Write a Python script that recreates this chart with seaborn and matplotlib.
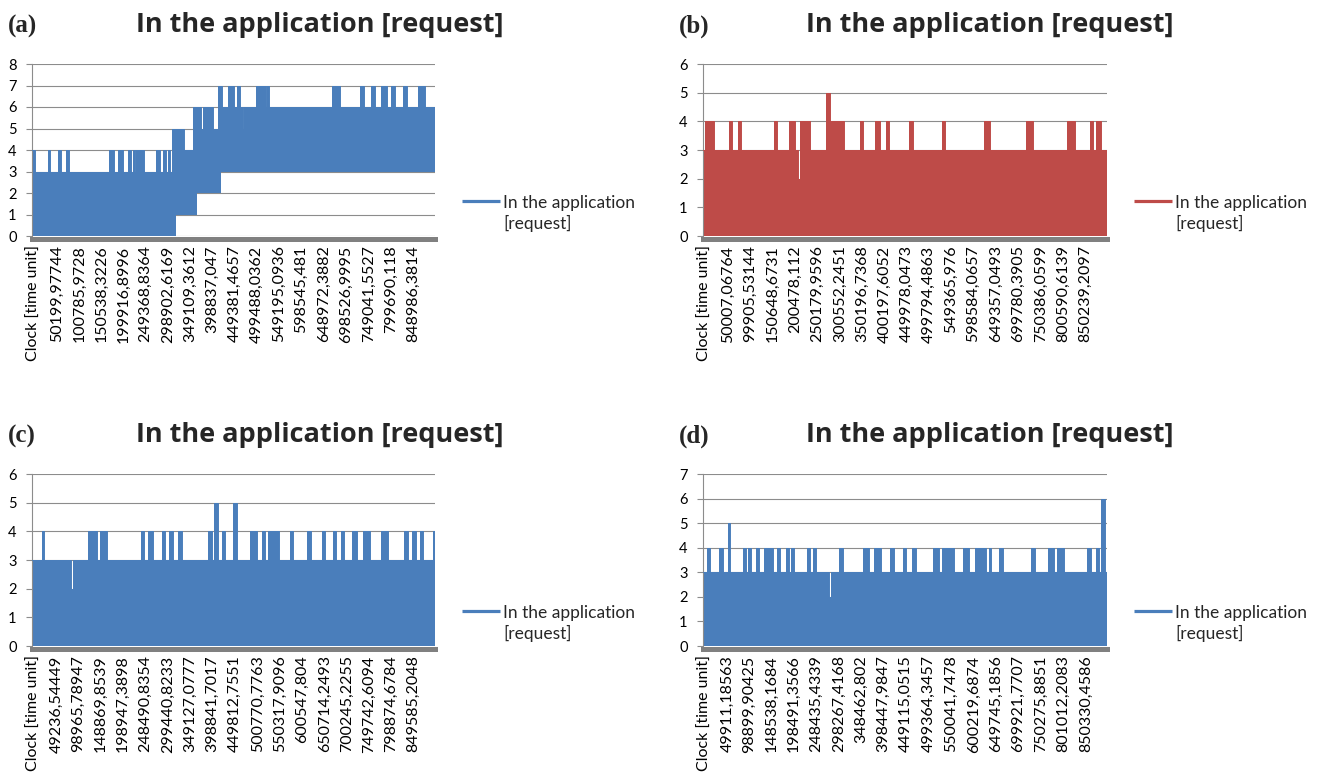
import numpy as np
import matplotlib
matplotlib.use("Agg")
import matplotlib.pyplot as plt
from matplotlib.lines import Line2D
import seaborn as sns

# ---------------------------------------------------------------------------
# Tick labels: clock values as printed (decimal comma); the first category is
# the column header of the exported table.
# ---------------------------------------------------------------------------
clock_header = "Clock [time unit]"

a_ticks = ["50199,97744", "100785,9728", "150538,3226", "199916,8996", "249368,8364",
           "298902,6169", "349109,3612", "398837,047", "449381,4657", "499488,0362",
           "549195,0936", "598545,481", "648972,3882", "698526,9995", "749041,5527",
           "799690,118", "848986,3814"]
b_ticks = ["50007,06764", "99905,53144", "150648,6731", "200478,112", "250179,9596",
           "300552,2451", "350196,7368", "400197,6052", "449978,0473", "499794,4863",
           "549365,976", "598584,0657", "649357,0493", "699780,3905", "750386,0599",
           "800590,6139", "850239,2097"]
c_ticks = ["49236,54449", "98965,78947", "148869,8539", "198947,3898", "248490,8354",
           "299440,8233", "349127,0777", "398841,7017", "449812,7551", "500770,7763",
           "550317,9096", "600547,804", "650714,2493", "700245,2255", "749742,6094",
           "798874,6784", "849585,2048"]
d_ticks = ["49911,18563", "98899,90425", "148538,1684", "198491,3566", "248435,4339",
           "298267,4168", "348462,802", "398447,9847", "449115,0515", "499364,3457",
           "550041,7478", "600219,6874", "649745,1856", "699921,7707", "750275,8851",
           "801012,2083", "850330,4586"]

# ---------------------------------------------------------------------------
# Requests in the application: step segments (clock at which each level
# starts, last entry closes the series).  *_high = peak level in the segment,
# *_floor = lowest level reached in the segment.
# ---------------------------------------------------------------------------
a_edges = [-5000, 2000, 30000, 35000, 54000, 60500, 71000, 78500, 166500, 179500,
           188500, 198000, 209500, 216500, 220500, 225000, 228000, 246500, 273000,
           282000, 289000, 295000, 300500, 304000, 308500, 336500, 356500, 373500,
           379000, 401500, 411000, 421000, 433500, 448500, 453500, 461000, 467000,
           471000, 497000, 519500, 521000, 527000, 666500, 685500, 731000, 738500,
           755000, 764000, 776000, 790500, 799500, 808500, 826000, 835000, 861000,
           876000, 898000]
a_high = [4, 3, 4, 3, 4, 3, 4, 3, 4, 3, 4, 3, 4, 3, 4, 3, 4, 3, 4, 3, 4, 3, 4, 3,
          5, 4, 6, 5, 6, 5, 7, 6, 7, 6, 7, 6, 5, 6, 7, 6, 7, 6, 7, 6, 7, 6, 7, 6,
          7, 6, 7, 6, 7, 6, 7, 6]
a_floor_edges = [-5000, 317500, 364000, 418500, 898000]
a_floor = [0, 1, 2, 3]

b_edges = [-5000, 500, 20000, 52000, 59500, 73000, 80500, 153000, 160500, 186500,
           201500, 207500, 211000, 212500, 235000, 270000, 278000, 311000, 347000,
           352500, 380500, 390000, 404000, 411000, 456500, 464000, 529500, 537000,
           624000, 637500, 718000, 733000, 809000, 827500, 860000, 867000, 874500,
           883500, 898000]
b_high = [3, 4, 3, 4, 3, 4, 3, 4, 3, 4, 3, 2, 3, 4, 3, 5, 4, 3, 4, 3, 4, 3, 4, 3,
          4, 3, 4, 3, 4, 3, 4, 3, 4, 3, 4, 3, 4, 3]
b_floor_edges = [-5000, 898000]
b_floor = [0]

c_edges = [-5000, 16500, 22500, 82000, 86000, 119500, 140000, 147000, 162000, 239000,
           246500, 254000, 265500, 285500, 293000, 302500, 311500, 321500, 330500,
           388500, 397500, 402000, 411000, 420000, 428500, 444500, 453500, 483500,
           498500, 509500, 517000, 523000, 549500, 573000, 580500, 610500, 620500,
           644500, 651500, 669000, 676500, 687500, 695000, 711500, 722500, 736000,
           752500, 776000, 792000, 829500, 838500, 846000, 856000, 864500, 872000,
           893000, 898000]
c_high = [3, 4, 3, 2, 3, 4, 3, 4, 3, 4, 3, 4, 3, 4, 3, 4, 3, 4, 3, 4, 3, 5, 3, 4,
          3, 5, 3, 4, 3, 4, 3, 4, 3, 4, 3, 4, 3, 4, 3, 4, 3, 4, 3, 4, 3, 4, 3, 4,
          3, 4, 3, 4, 3, 4, 3, 4]
c_floor_edges = [-5000, 898000]
c_floor = [0]

d_edges = [-5000, 3500, 11000, 31500, 39000, 50000, 56000, 83500, 91000, 94500,
           102000, 113500, 121000, 132000, 150500, 160500, 168000, 180500, 188000,
           191500, 199000, 227500, 235000, 240000, 247500, 276000, 282000, 300000,
           307000, 352000, 365500, 378000, 393000, 414000, 421500, 441500, 449000,
           462500, 470000, 508500, 522000, 529500, 555500, 575500, 589000, 604000,
           628000, 634000, 639000, 657500, 665000, 728500, 736000, 766000, 779500,
           786500, 803000, 854000, 861500, 872500, 880000, 885000, 892500, 898000]
d_high = [3, 4, 3, 4, 3, 5, 3, 4, 3, 4, 3, 4, 3, 4, 3, 4, 3, 4, 3, 4, 3, 4, 3, 4,
          3, 2, 3, 4, 3, 4, 3, 4, 3, 4, 3, 4, 3, 4, 3, 4, 3, 4, 3, 4, 3, 4, 3, 4,
          3, 4, 3, 4, 3, 4, 3, 4, 3, 4, 3, 4, 3, 6, 3]
d_floor_edges = [-5000, 898000]
d_floor = [0]

# ---------------------------------------------------------------------------
# Styling
# ---------------------------------------------------------------------------
sns.set_style("white")
plt.rcParams["font.family"] = ["Lato", "DejaVu Sans"]

TITLE = "In the application [request]"
LEGEND_LINES = ["In the application", "[request]"]
BLUE = "#4A7EBB"
RED = "#BE4B48"
GRID = "#8C8C8C"
FLOOR = "#808080"
XLIM = (-5000, 898000)

W, H = 1317, 781
fig = plt.figure(figsize=(W / 100, H / 100), dpi=100)


def fx(px):
    return px / W


def fy(py):
    return 1 - py / H


def step_at(edges, values, x):
    idx = np.searchsorted(np.asarray(edges, float), x, side="right") - 1
    idx = np.clip(idx, 0, len(values) - 1)
    return np.asarray(values, float)[idx]


def draw_panel(tag, ticks, edges, high, floor_edges, floor, ymax, color,
               box, title_x, top):
    left, right, ax_top, ax_bottom = box
    ax = fig.add_axes([fx(left), fy(ax_bottom), (right - left) / W,
                       (ax_bottom - ax_top) / H])

    x = np.union1d(edges, floor_edges)
    hi = step_at(edges, high, x)
    lo = step_at(floor_edges, floor, x)
    ax.fill_between(x, lo, hi, step="post", color=color, lw=0, zorder=2)
    sns.lineplot(x=np.asarray(edges, float), y=np.append(high, high[-1]),
                 drawstyle="steps-post", color=color, lw=0.7, ax=ax,
                 estimator=None, legend=False, zorder=3)

    ax.set_xlim(*XLIM)
    ax.set_ylim(0, ymax)
    ax.set_yticks(range(ymax + 1))
    positions = [0.0] + [float(t.replace(",", ".")) for t in ticks]
    ax.set_xticks(positions)
    ax.set_xticklabels([clock_header] + ticks)
    ax.set_xlabel("")
    ax.set_ylabel("")

    ax.set_axisbelow(True)
    ax.grid(axis="y", color=GRID, lw=0.8)
    ax.grid(axis="x", visible=False)
    for s in ("top", "right"):
        ax.spines[s].set_visible(False)
    ax.spines["left"].set_color(GRID)
    ax.spines["left"].set_linewidth(0.8)
    ax.spines["bottom"].set_color(FLOOR)
    ax.spines["bottom"].set_linewidth(3.6)
    ax.spines["bottom"].set_position(("outward", 1.8))
    ax.tick_params(axis="y", length=4, width=0.8, color=GRID, pad=7,
                   labelsize=10.5, labelcolor="black", left=True)
    ax.tick_params(axis="x", length=0, pad=5, labelsize=11.5,
                   labelcolor="black", labelrotation=90)
    for lab in ax.get_xticklabels():
        lab.set_horizontalalignment("center")
        lab.set_verticalalignment("top")

    # panel letter and chart title
    fig.text(fx(left - 24), fy(top + 33), tag, ha="left", va="baseline",
             fontsize=18, fontweight="bold", family="Liberation Serif")
    fig.text(fx(title_x), fy(top + 32), TITLE, ha="center", va="baseline",
             fontsize=19.5, fontweight="bold", family="Open Sans")

    # legend entry: line + two-line label
    lx = right + 27
    ly = ax_bottom - 35
    fig.add_artist(Line2D([fx(lx), fx(lx + 38)], [fy(ly), fy(ly)],
                          color=color, lw=2.3, solid_capstyle="butt"))
    fig.text(fx(lx + 41), fy(ly + 7), LEGEND_LINES[0], ha="left",
             va="baseline", fontsize=12.5)
    fig.text(fx(lx + 41), fy(ly + 28), LEGEND_LINES[1], ha="left",
             va="baseline", fontsize=12.5)
    return ax


draw_panel("(a)", a_ticks, a_edges, a_high, a_floor_edges, a_floor, 8, BLUE,
           (32, 435, 64, 236), 320, 0)
draw_panel("(b)", b_ticks, b_edges, b_high, b_floor_edges, b_floor, 6, RED,
           (703, 1107, 64, 236), 990, 0)
draw_panel("(c)", c_ticks, c_edges, c_high, c_floor_edges, c_floor, 6, BLUE,
           (32, 435, 474, 646), 320, 410)
draw_panel("(d)", d_ticks, d_edges, d_high, d_floor_edges, d_floor, 7, BLUE,
           (703, 1107, 474, 646), 990, 410)

fig.savefig("out.png", dpi=100)
